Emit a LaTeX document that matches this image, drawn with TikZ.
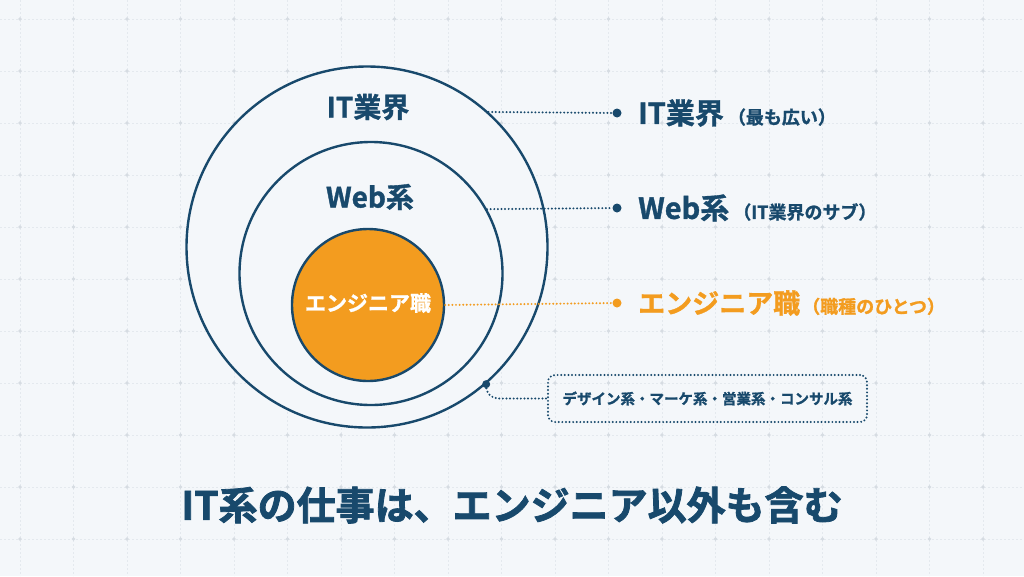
\documentclass[tikz,border=0pt]{standalone}
\usepackage{fontspec}
\setmainfont{Noto Sans CJK JP}
\newfontfamily\jpk{Noto Sans CJK JP}[UprightFont={* Bold}, UprightFeatures={FakeBold=1.2}]
\newfontfamily\jpt{Noto Sans CJK JP}[UprightFont={* Bold}, UprightFeatures={FakeBold=2}]
\definecolor{navy}{HTML}{18496C}
\definecolor{orng}{HTML}{F39C1F}
\definecolor{bg}{HTML}{F4F7FA}
\definecolor{gridc}{HTML}{E4E9EE}
\definecolor{griddot}{HTML}{D6DCE2}
\tikzset{
  ring/.style={circle, draw=navy, line width=2.4pt, inner sep=0pt},
  dotline/.style={draw=navy, line width=2.2pt, dash pattern=on 0pt off 3.6pt, line cap=round},
  odotline/.style={draw=orng, line width=2.2pt, dash pattern=on 0pt off 3.6pt, line cap=round},
  enddot/.style={circle, fill=navy, inner sep=0pt, minimum size=9pt},
  oenddot/.style={circle, fill=orng, inner sep=0pt, minimum size=9pt},
  lbl/.style={anchor=west, inner sep=0pt, text=navy, font=\jpk},
}
\begin{document}
\begin{tikzpicture}[x=1pt,y=-1pt]
\useasboundingbox (0,0) rectangle (1024,576);
\fill[bg] (0,0) rectangle (1024,576);
% grid
\foreach \i in {0,...,18} {
  \draw[gridc, line width=0.6pt, dash pattern=on 2pt off 2pt] (20+53.5*\i,0) -- (20+53.5*\i,576);
}
\foreach \j in {0,...,10} {
  \draw[gridc, line width=0.6pt, dash pattern=on 2pt off 2pt] (0,19+52*\j) -- (1024,19+52*\j);
}
\foreach \i in {0,...,18} {
  \foreach \j in {0,...,10} {
    \fill[griddot] (20+53.5*\i,19+52*\j) circle (1.8pt);
  }
}
% circles
\node[ring, minimum size=361pt, fill=bg] (outer) at (367,247) {};
\node[ring, minimum size=263pt, fill=bg] (web) at (371,273.5) {};
\node[ring, minimum size=152pt, fill=orng] (eng) at (368,305) {};
\node[text=navy, font=\jpk\fontsize{28}{30}\selectfont] (tit) at (368,107) {IT業界};
\node[text=navy, font=\jpk\fontsize{28}{30}\selectfont] (tweb) at (370,197) {Web系};
\node[text=white, font=\jpk\fontsize{21}{24}\selectfont] (teng) at (368,303) {エンジニア職};
% right labels
\node[enddot] (d1) at (617,113) {};
\node[enddot] (d2) at (617,208) {};
\node[oenddot] (d3) at (617,303) {};
\draw[dotline] (outer.48.1) -- (d1);
\draw[dotline] (web.29.7) -- (d2);
\draw[odotline] (eng.east) -- (d3);
\node[lbl] (l1) at (638,113) {{\fontsize{29}{32}\selectfont IT業界}\hspace{4pt}{\fontsize{18}{20}\selectfont （最も広い）}};
\node[lbl] (l2) at (638,208) {{\fontsize{29}{32}\selectfont Web系}\hspace{4pt}{\fontsize{18}{20}\selectfont （IT業界のサブ）}};
\node[lbl, text=orng] (l3) at (638,303) {{\fontsize{27}{32}\selectfont エンジニア職}\hspace{2pt}{\fontsize{18}{20}\selectfont （職種のひとつ）}};
% box
\node[draw=navy, line width=2.2pt, dash pattern=on 0pt off 3.6pt, line cap=round, rounded corners=7pt, minimum width=319pt, minimum height=47pt, text=navy, font=\jpk\fontsize{14.5}{16}\selectfont] (box) at (707.5,398.5) {デザイン系・マーケ系・営業系・コンサル系};
\node[enddot, minimum size=8pt] (d4) at (outer.-49.4) {};
\draw[dotline, rounded corners=12pt] (d4) |- (box.west);
% title
\node[text=navy, font=\jpt\fontsize{39}{44}\selectfont] (title) at (512,505) {IT系の仕事は、エンジニア以外も含む};
\end{tikzpicture}
\end{document}
